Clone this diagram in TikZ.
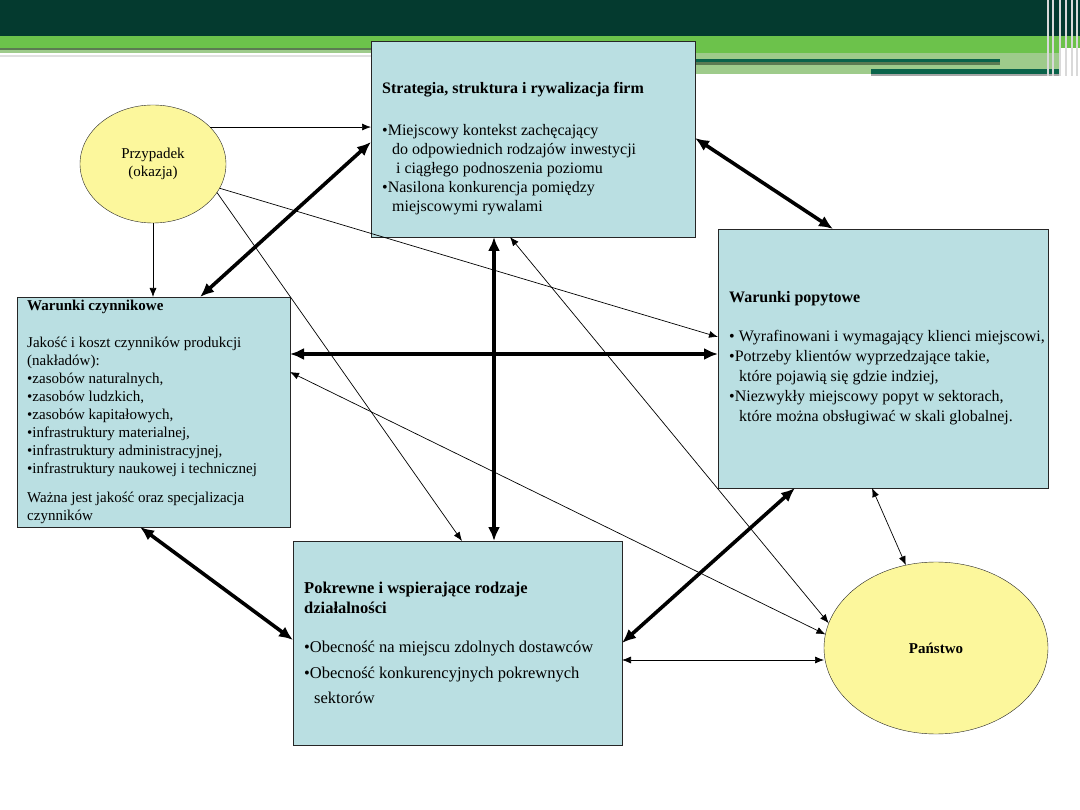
\documentclass[tikz,border=0pt]{standalone}
\usepackage{fontspec}
\setmainfont{Liberation Serif}
\usetikzlibrary{shapes.geometric,arrows.meta}

\definecolor{boxblue}{HTML}{BADFE2}
\definecolor{ovalyellow}{HTML}{FCF79C}
\definecolor{banddark}{HTML}{043A2F}
\definecolor{bandgreen}{HTML}{6CC24B}
\definecolor{bandpale}{HTML}{9ECB8B}
\definecolor{bandline}{HTML}{5B7A52}
\definecolor{bandteal}{HTML}{0A634A}

\begin{document}
\begin{tikzpicture}[x=1pt, y=-1pt,
  box/.style={rectangle, draw=black!85, fill=boxblue, inner sep=0pt, outer sep=0pt},
  oval/.style={ellipse, draw=black!85, fill=ovalyellow, inner sep=0pt, outer sep=0pt, align=center, font=\fontsize{15}{18}\selectfont},
  txt/.style={anchor=north west, align=left, inner sep=0pt, font=\fontsize{16}{19}\selectfont},
  heavy/.style={{Latex[length=14pt,width=12pt]}-{Latex[length=14pt,width=12pt]}, line width=3.6pt},
  one/.style={-{Latex[length=9pt,width=7pt]}, line width=0.7pt},
  two/.style={{Latex[length=9pt,width=7pt]}-{Latex[length=9pt,width=7pt]}, line width=0.7pt}
]
  \useasboundingbox[fill=white] (0,0) rectangle (1080,810);

  % banner
  \fill[banddark] (0,0) rectangle (1080,36);
  \fill[bandgreen] (0,36) rectangle (1080,48);
  \fill[bandline] (0,48) rectangle (371,50);
  \fill[bandpale] (0,50) rectangle (371,53);
  \fill[black!12] (0,55) rectangle (371,57);
  \fill[bandgreen] (695,48) rectangle (1060,53);
  \fill[bandpale] (695,53) rectangle (1060,74);
  \fill[bandteal] (695,59) rectangle (1000,62);
  \fill[bandline] (695,62) rectangle (1000,65);
  \fill[bandteal] (871,69) rectangle (1060,74);
  \fill[black!35] (871,74) rectangle (1060,76);
  \foreach \sx in {1048,1053,1060,1066,1072,1077}
    \draw[white!70!gray, line width=1.2pt] (\sx,0) -- (\sx,76);

  % the four boxes and the two ovals
  \node[box, minimum width=324pt, minimum height=196pt] (strat) at (533,139) {};
  \node[box, minimum width=273pt, minimum height=230pt] (warc) at (153.5,412) {};
  \node[box, minimum width=330pt, minimum height=259pt] (popyt) at (883,358.5) {};
  \node[box, minimum width=329pt, minimum height=204pt] (pokr) at (457.5,643) {};
  \node[oval, minimum width=146pt, minimum height=118pt] (przyp) at (153,164) {Przypadek\\(okazja)};
  \node[oval, minimum width=224pt, minimum height=172pt, font=\fontsize{15}{18}\selectfont\bfseries] (panst) at (936,648) {Państwo};

  % texts in the boxes
  \node[txt] (strat-txt) at ([xshift=11pt,yshift=-41pt]strat.north west) {\textbf{Strategia, struktura i rywalizacja firm}\\[23pt]
    •Miejscowy kontekst zachęcający\\
    \hspace*{10pt}do odpowiednich rodzajów inwestycji\\
    \hspace*{14pt}i ciągłego podnoszenia poziomu\\
    •Nasilona konkurencja pomiędzy\\
    \hspace*{10pt}miejscowymi rywalami};
  \node[txt, font=\fontsize{15}{18}\selectfont] (warc-txt) at ([xshift=10pt,yshift=-3pt]warc.north west) {\textbf{Warunki czynnikowe}\\[19pt]
    Jakość i koszt czynników produkcji\\
    (nakładów):\\
    •zasobów naturalnych,\\
    •zasobów ludzkich,\\
    •zasobów kapitałowych,\\
    •infrastruktury materialnej,\\
    •infrastruktury administracyjnej,\\
    •infrastruktury naukowej i technicznej\\[11pt]
    Ważna jest jakość oraz specjalizacja\\
    czynników};
  \node[txt, font=\fontsize{16}{20}\selectfont] (popyt-txt) at ([xshift=11pt,yshift=-62pt]popyt.north west) {\textbf{Warunki popytowe}\\[19pt]
    • Wyrafinowani i wymagający klienci miejscowi,\\
    •Potrzeby klientów wyprzedzające takie,\\
    \hspace*{10pt}które pojawią się gdzie indziej,\\
    •Niezwykły miejscowy popyt w sektorach,\\
    \hspace*{10pt}które można obsługiwać w skali globalnej.};
  \node[txt, font=\fontsize{16.5}{20}\selectfont] (pokr-txt) at ([xshift=11pt,yshift=-41pt]pokr.north west) {\textbf{Pokrewne i wspierające rodzaje}\\
    \textbf{działalności}\\[19pt]
    •Obecność na miejscu zdolnych dostawców\\[6pt]
    •Obecność konkurencyjnych pokrewnych\\[5pt]
    \hspace*{10pt}sektorów};

  % heavy links between the boxes
  \draw[heavy] ([yshift=-101pt]strat.north west) -- ([xshift=183pt]warc.north west);
  \draw[heavy] ([yshift=-97pt]strat.north east) -- ([xshift=115pt]popyt.north west);
  \draw[heavy] ([xshift=-39pt]strat.south) -- ([xshift=36.5pt]pokr.north);
  \draw[heavy] ([yshift=-57pt]warc.north east) -- ([yshift=-125pt]popyt.north west);
  \draw[heavy] ([xshift=123pt]warc.south west) -- ([yshift=-99pt]pokr.north west);
  \draw[heavy] ([yshift=-102pt]pokr.north east) -- ([xshift=77pt]popyt.south west);

  % Przypadek -> boxes
  \draw[one] (przyp.33) -- (przyp.33 -| strat.west);
  \draw[one] (przyp.south) -- (przyp.south |- warc.north);
  \draw[one] (przyp.-24) -- ([xshift=4.5pt]pokr.north);
  \draw[one] (przyp.-20) -- ([yshift=-108pt]popyt.north west);

  % Panstwo <-> boxes
  \draw[two] ([xshift=-23pt]strat.south) -- (panst.167);
  \draw[two] ([yshift=-75pt]warc.north east) -- (panst.173);
  \draw[two] ([yshift=-119pt]pokr.north east) -- ([yshift=-119pt]pokr.north east -| panst.west);
  \draw[two] ([xshift=154pt]popyt.south west) -- (panst.110);
\end{tikzpicture}
\end{document}
